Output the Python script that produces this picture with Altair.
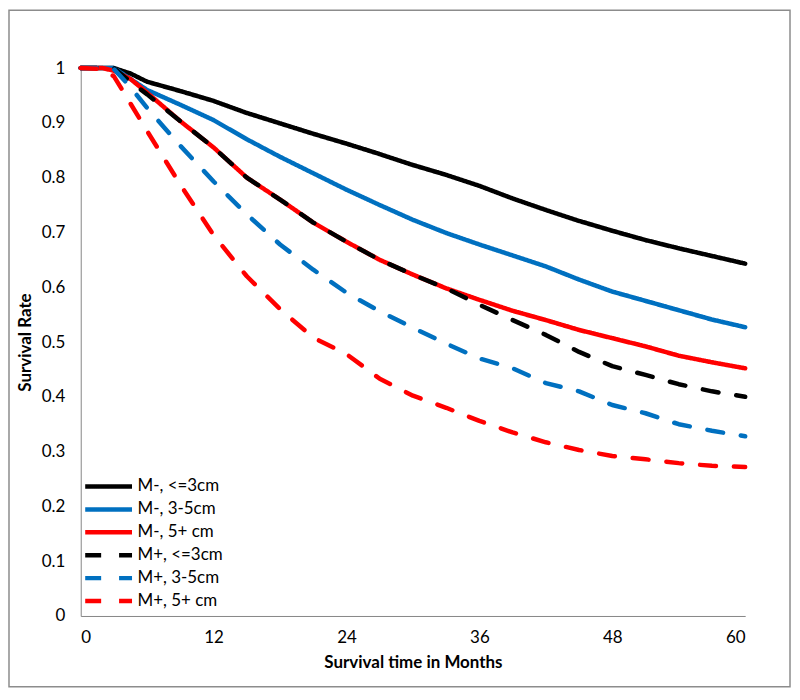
import altair as alt
import pandas as pd

months = [0, 2, 3, 4.5, 6, 9, 12, 15, 18, 21, 24, 27, 30, 33, 36, 39, 42, 45, 48, 51, 54, 57, 60]

m_minus_le3 = [1, 1, 1, 0.99, 0.975, 0.958, 0.94, 0.918, 0.899, 0.88, 0.862, 0.843, 0.823, 0.805, 0.785, 0.762, 0.741, 0.721, 0.703, 0.686, 0.671, 0.657, 0.643]
m_minus_35 = [1, 1, 1, 0.98, 0.96, 0.933, 0.905, 0.87, 0.838, 0.808, 0.778, 0.75, 0.723, 0.699, 0.678, 0.658, 0.638, 0.614, 0.592, 0.575, 0.558, 0.541, 0.527]
m_minus_5p = [1, 1, 0.995, 0.98, 0.955, 0.903, 0.855, 0.80, 0.76, 0.718, 0.683, 0.65, 0.623, 0.598, 0.577, 0.557, 0.54, 0.522, 0.507, 0.492, 0.475, 0.463, 0.452]
m_plus_le3 = [1, 1, 1, 0.975, 0.952, 0.903, 0.855, 0.80, 0.76, 0.718, 0.683, 0.65, 0.623, 0.598, 0.568, 0.54, 0.513, 0.482, 0.456, 0.44, 0.423, 0.41, 0.40]
m_plus_35 = [1, 1, 0.998, 0.965, 0.927, 0.858, 0.793, 0.733, 0.678, 0.632, 0.59, 0.556, 0.526, 0.497, 0.47, 0.452, 0.425, 0.41, 0.385, 0.37, 0.35, 0.338, 0.328]
m_plus_5p = [1, 0.998, 0.985, 0.935, 0.885, 0.787, 0.695, 0.62, 0.56, 0.508, 0.478, 0.433, 0.402, 0.38, 0.356, 0.335, 0.317, 0.303, 0.292, 0.286, 0.279, 0.274, 0.272]

series_names = ["M-, <=3cm", "M-, 3-5cm", "M-, 5+ cm", "M+, <=3cm", "M+, 3-5cm", "M+, 5+ cm"]
series_values = [m_minus_le3, m_minus_35, m_minus_5p, m_plus_le3, m_plus_35, m_plus_5p]
series_colors = ["#000000", "#0070C0", "#FF0000", "#000000", "#0070C0", "#FF0000"]
series_dashes = [[1, 0], [1, 0], [1, 0], [16, 18], [16, 18], [16, 18]]

x_ticks = [0, 12, 24, 36, 48, 60]
y_ticks = [0, 0.1, 0.2, 0.3, 0.4, 0.5, 0.6, 0.7, 0.8, 0.9, 1.0]

rows = []
for idx, (name, vals) in enumerate(zip(series_names, series_values)):
    for m, v in zip(months, vals):
        rows.append({"month": m, "rate": v, "series": name, "order": idx})
df = pd.DataFrame(rows)

W, H = 667, 550
FONT = "Lato"

legend = alt.Legend(
    orient="none", legendX=14, legendY=406, title=None,
    symbolType="M-2,0H2", symbolSize=552, symbolStrokeWidth=4.5,
    labelFontSize=17, labelFont=FONT, labelColor="#000000", labelOffset=15,
    rowPadding=-1.8, padding=0, symbolLimit=0,
)

lines = alt.Chart(df).mark_line(strokeWidth=4.5, strokeCap="round", strokeJoin="round").encode(
    x=alt.X("month:Q", scale=alt.Scale(domain=[0, 60], nice=False),
            axis=alt.Axis(values=x_ticks, title="Survival time in Months", grid=False, ticks=False,
                          labelPadding=14, titlePadding=9)),
    y=alt.Y("rate:Q", scale=alt.Scale(domain=[0, 1], nice=False),
            axis=alt.Axis(values=y_ticks, format=".1~f", title="Survival Rate", grid=False, ticks=False,
                          labelPadding=16, titlePadding=7)),
    color=alt.Color("series:N", scale=alt.Scale(domain=series_names, range=series_colors), legend=legend),
    strokeDash=alt.StrokeDash("series:N", scale=alt.Scale(domain=series_names, range=series_dashes), legend=legend),
    order=alt.Order("month:Q"),
    detail="order:O",
)

frame = alt.Chart(pd.DataFrame({"f": [0]})).mark_rect(fill=None, stroke="#8c8c8c", strokeWidth=1.5).encode(
    x=alt.value(-72), x2=alt.value(712), y=alt.value(-58), y2=alt.value(621)
)

chart = alt.layer(frame, lines).properties(
    width=W, height=H,
    padding={"left": 73, "top": 59, "right": 47, "bottom": 72},
    autosize=alt.AutoSizeParams(type="none"),
).configure_view(stroke=None).configure_axis(
    domainColor="#868686", domainWidth=1,
    labelFont=FONT, labelFontSize=17, labelColor="#000000",
    titleFont=FONT, titleFontSize=17, titleFontWeight="bold", titleColor="#000000",
)

chart.save("out.html", embed_options={"renderer": "svg", "actions": False})
